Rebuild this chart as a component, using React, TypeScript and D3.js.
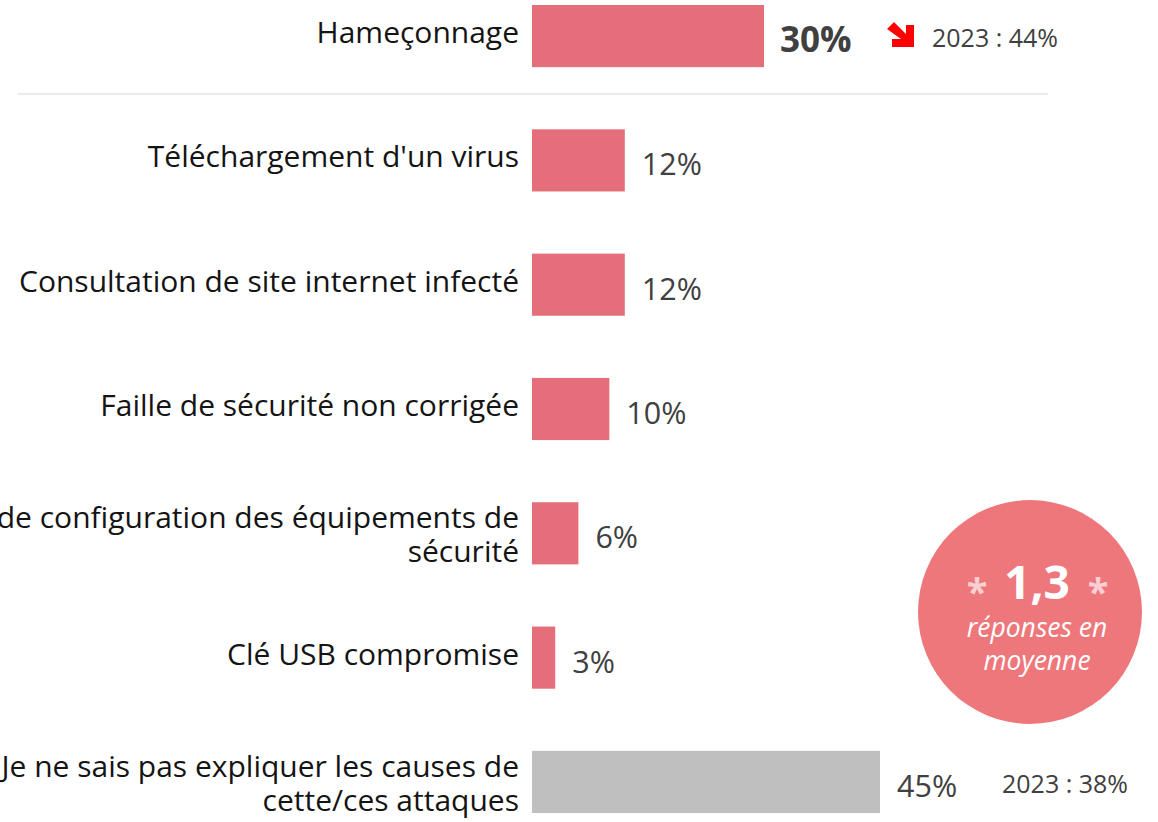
import React from "react";
import * as d3 from "d3";

const categories = [
  "Hameçonnage",
  "Téléchargement d'un virus",
  "Consultation de site internet infecté",
  "Faille de sécurité non corrigée",
  "Erreur de configuration des équipements de|sécurité",
  "Clé USB compromise",
  "Je ne sais pas expliquer les causes de|cette/ces attaques",
];
const values = [30, 12, 12, 10, 6, 3, 45];
const previous = ["2023 : 44%", "", "", "", "", "", "2023 : 38%"];
const average = "1,3";

const W = 1158;
const H = 822;
const FONT = "'Open Sans', 'Noto Sans', sans-serif";

export default function App() {
  const x0 = 532;
  const x = d3.scaleLinear().domain([0, 45]).range([0, 348]);
  const y = d3
    .scaleBand<string>()
    .domain(categories)
    .range([5, 813])
    .paddingInner(0.5)
    .paddingOuter(0);
  const bh = y.bandwidth();

  return (
    <svg
      width={W}
      height={H}
      style={{ position: "absolute", left: 0, top: 0, background: "#fff" }}
      fontFamily={FONT}
    >
      <line x1={18} x2={1048} y1={94} y2={94} stroke="#ebebeb" strokeWidth={2} />
      {categories.map((c, i) => {
        const top = y(c)!;
        const cy = top + bh / 2;
        const lines = c.split("|");
        const gray = i === categories.length - 1;
        const bold = i === 0;
        const end = x0 + x(values[i]);
        return (
          <g key={c}>
            <rect x={x0} y={top} width={x(values[i])} height={bh} fill={gray ? "#bfbfbf" : "#e56e7b"} />
            <text
              x={519}
              y={cy}
              textAnchor="end"
              fontSize={30}
              fill="#141414"
              dominantBaseline="central"
            >
              {lines.map((l, k) => (
                <tspan key={k} x={519} dy={k === 0 ? (lines.length > 1 ? -17 : -5) : 34}>
                  {l}
                </tspan>
              ))}
            </text>
            <text
              x={end + (bold ? 16 : 17)}
              y={cy + (bold ? 2 : 3)}
              dominantBaseline="central"
              fontSize={bold ? 35 : 30.5}
              fontWeight={bold ? 700 : 400}
              fill="#404040"
            >
              {values[i]}%
            </text>
            {previous[i] && (
              <text
                x={gray ? 1002 : 932}
                y={cy + 1}
                dominantBaseline="central"
                fontSize={25}
                fill="#404040"
              >
                {previous[i]}
              </text>
            )}
          </g>
        );
      })}
      {/* down arrow */}
      <path
        d="M887,29 L894,22 L906,34 L906,25 L914,25 L914,47 L892,47 L892,39 L901,39 Z"
        fill="#ff0000"
      />
      <g transform="translate(1030,612)">
        <circle r={112} fill="#ee777c" />
        <text x={7} y={-31} textAnchor="middle" dominantBaseline="central" fontSize={46} fontWeight={700} fill="#fff">
          {average}
        </text>
        <text x={-53} y={-21} textAnchor="middle" dominantBaseline="central" fontSize={38} fontWeight={700} fill="#f8cfd2">
          *
        </text>
        <text x={68} y={-21} textAnchor="middle" dominantBaseline="central" fontSize={38} fontWeight={700} fill="#f8cfd2">
          *
        </text>
        <text x={7} y={15} textAnchor="middle" dominantBaseline="central" fontSize={26.5} fontStyle="italic" fill="#fff">
          réponses en
        </text>
        <text x={7} y={48} textAnchor="middle" dominantBaseline="central" fontSize={26.5} fontStyle="italic" fill="#fff">
          moyenne
        </text>
      </g>
    </svg>
  );
}
